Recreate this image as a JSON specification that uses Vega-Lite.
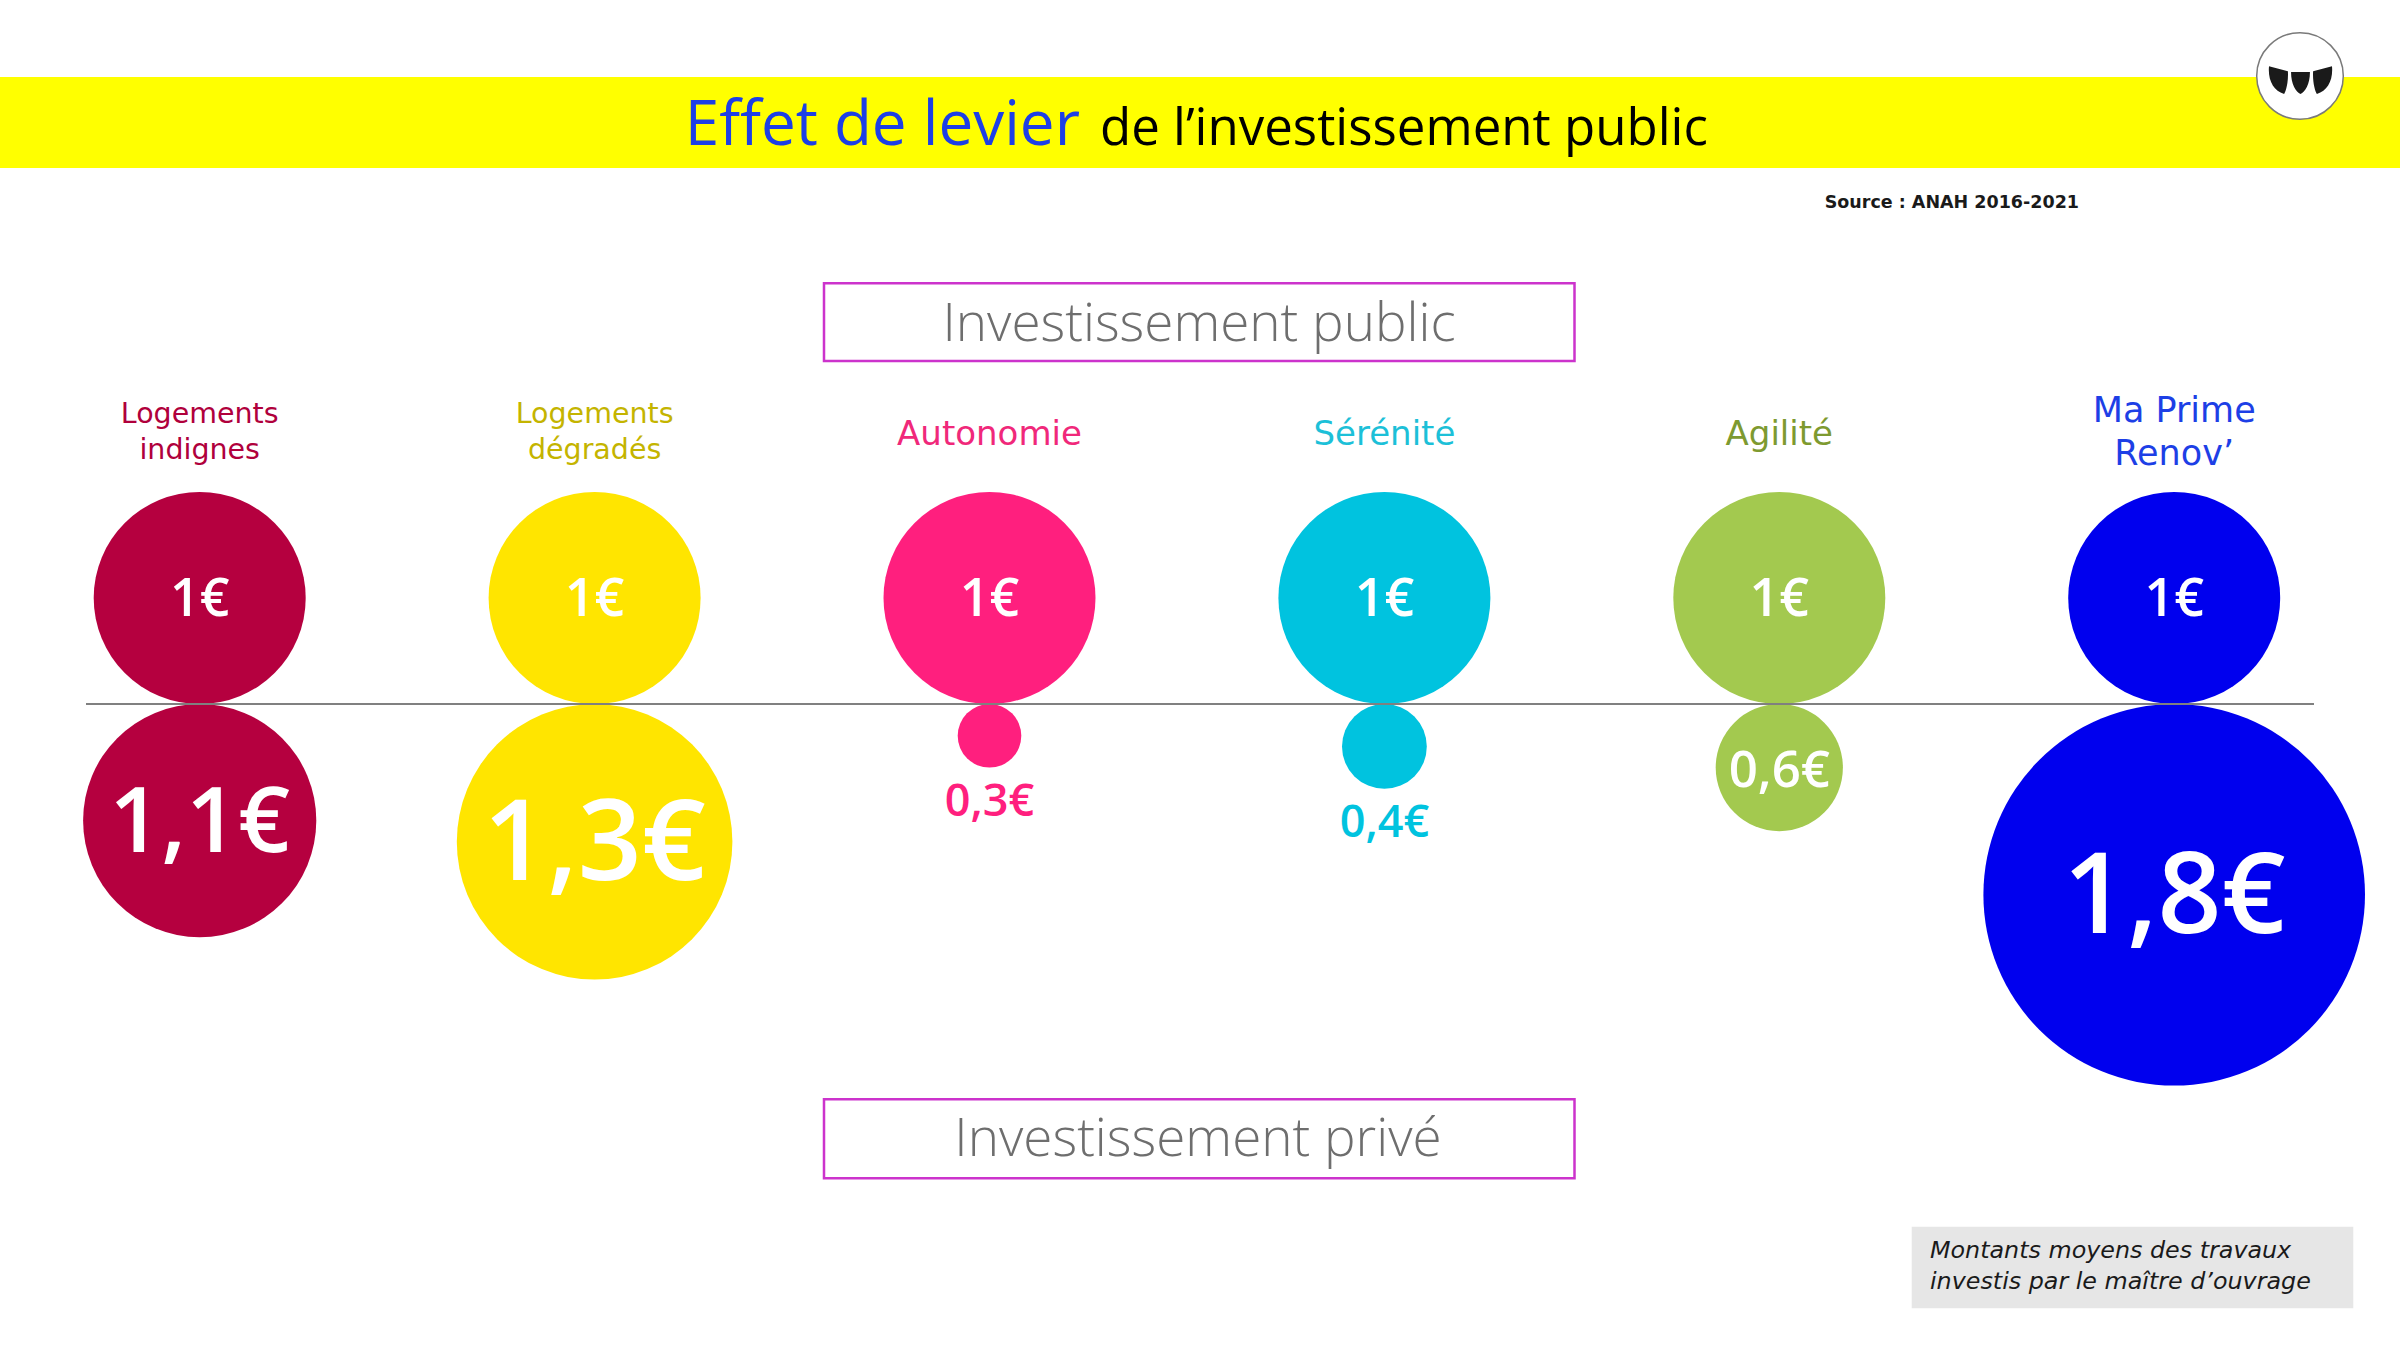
{
  "$schema": "https://vega.github.io/schema/vega-lite/v6.json",
  "width": 2400,
  "height": 1350,
  "padding": 0,
  "autosize": {"type": "none"},
  "background": "white",
  "config": {
    "view": {"stroke": null},
    "axis": {"disable": true},
    "legend": {"disable": true},
    "locale": {"number": {"decimal": ",", "thousands": " ", "grouping": [3], "currency": ["", "€"]}}
  },
  "datasets": {
    "effet": [
      {"categorie": "Logements indignes", "libelle": "Logements\nindignes", "public": 1, "prive": 1.1},
      {"categorie": "Logements dégradés", "libelle": "Logements\ndégradés", "public": 1, "prive": 1.3},
      {"categorie": "Autonomie", "libelle": "Autonomie", "public": 1, "prive": 0.3},
      {"categorie": "Sérénité", "libelle": "Sérénité", "public": 1, "prive": 0.4},
      {"categorie": "Agilité", "libelle": "Agilité", "public": 1, "prive": 0.6},
      {"categorie": "Ma Prime Renov’", "libelle": "Ma Prime\nRenov’", "public": 1, "prive": 1.8}
    ]
  },
  "data": {"name": "effet"},
  "resolve": {"scale": {"x": "independent", "y": "independent", "size": "independent", "color": "independent"}},
  "layer": [
    {
      "data": {"values": [{}]},
      "mark": {"type": "rect", "fill": "#FFFF00", "stroke": null},
      "encoding": {
        "x": {"datum": 0, "type": "quantitative", "scale": {"type": "linear", "domain": [0, 2400], "range": [0, 2400], "nice": false, "zero": false}},
        "x2": {"datum": 2400},
        "y": {"datum": 5.9151, "type": "quantitative", "scale": {"type": "linear", "domain": [-6.0943, 6.6415], "nice": false, "zero": false}},
        "y2": {"datum": 5.0566}
      }
    },
    {
      "data": {"values": [{}]},
      "mark": {"type": "text", "text": "Effet de levier", "align": "right", "baseline": "alphabetic", "font": "Open Sans", "fontSize": 62, "color": "#1D3FE6"},
      "encoding": {
        "x": {"datum": 1080, "type": "quantitative", "scale": {"type": "linear", "domain": [0, 2400], "range": [0, 2400], "nice": false, "zero": false}},
        "y": {"datum": 5.2708, "type": "quantitative", "scale": {"type": "linear", "domain": [-6.0943, 6.6415], "nice": false, "zero": false}}
      }
    },
    {
      "data": {"values": [{}]},
      "mark": {"type": "text", "text": "de l’investissement public", "align": "left", "baseline": "alphabetic", "font": "Open Sans", "fontSize": 51, "color": "#000000"},
      "encoding": {
        "x": {"datum": 1100, "type": "quantitative", "scale": {"type": "linear", "domain": [0, 2400], "range": [0, 2400], "nice": false, "zero": false}},
        "y": {"datum": 5.2708, "type": "quantitative", "scale": {"type": "linear", "domain": [-6.0943, 6.6415], "nice": false, "zero": false}}
      }
    },
    {
      "data": {"values": [{}]},
      "mark": {"type": "point", "shape": "circle", "filled": true, "fill": "#FFFFFF", "stroke": "#7A7A7A", "strokeWidth": 1.5, "opacity": 1, "size": 7500},
      "encoding": {
        "x": {"datum": 2300, "type": "quantitative", "scale": {"type": "linear", "domain": [0, 2400], "range": [0, 2400], "nice": false, "zero": false}},
        "y": {"datum": 5.9245, "type": "quantitative", "scale": {"type": "linear", "domain": [-6.0943, 6.6415], "nice": false, "zero": false}}
      }
    },
    {
      "data": {"values": [{}]},
      "mark": {"type": "point", "shape": "M-1,-0.42 L-0.4,-0.26 C-0.38,0.08 -0.46,0.36 -0.52,0.46 C-0.86,0.36 -1.04,0.02 -1,-0.42 Z M-0.3,-0.24 L0.3,-0.24 C0.3,0.16 0.14,0.4 0,0.46 C-0.14,0.4 -0.3,0.16 -0.3,-0.24 Z M1,-0.42 L0.4,-0.26 C0.38,0.08 0.46,0.36 0.52,0.46 C0.86,0.36 1.04,0.02 1,-0.42 Z", "filled": true, "fill": "#1A1A1A", "strokeWidth": 0, "opacity": 1, "size": 3969},
      "encoding": {
        "x": {"datum": 2300.5, "type": "quantitative", "scale": {"type": "linear", "domain": [0, 2400], "range": [0, 2400], "nice": false, "zero": false}},
        "y": {"datum": 5.8915, "type": "quantitative", "scale": {"type": "linear", "domain": [-6.0943, 6.6415], "nice": false, "zero": false}}
      }
    },
    {
      "data": {"values": [{}]},
      "mark": {"type": "text", "text": "Source : ANAH 2016-2021", "align": "right", "baseline": "alphabetic", "font": "DejaVu Sans", "fontWeight": "bold", "fontSize": 17.5, "color": "#1A1A1A"},
      "encoding": {
        "x": {"datum": 2079, "type": "quantitative", "scale": {"type": "linear", "domain": [0, 2400], "range": [0, 2400], "nice": false, "zero": false}},
        "y": {"datum": 4.6792, "type": "quantitative", "scale": {"type": "linear", "domain": [-6.0943, 6.6415], "nice": false, "zero": false}}
      }
    },
    {
      "data": {"values": [{}]},
      "mark": {"type": "rect", "fill": "#FFFFFF", "stroke": "#CC33CC", "strokeWidth": 2.5},
      "encoding": {
        "x": {"datum": 824, "type": "quantitative", "scale": {"type": "linear", "domain": [0, 2400], "range": [0, 2400], "nice": false, "zero": false}},
        "x2": {"datum": 1574.5},
        "y": {"datum": 3.9689, "type": "quantitative", "scale": {"type": "linear", "domain": [-6.0943, 6.6415], "nice": false, "zero": false}},
        "y2": {"datum": 3.2358}
      }
    },
    {
      "data": {"values": [{}]},
      "mark": {"type": "text", "text": "Investissement public", "align": "center", "baseline": "alphabetic", "font": "Open Sans", "fontWeight": 300, "fontSize": 53, "color": "#6E6E6E"},
      "encoding": {
        "x": {"datum": 1199, "type": "quantitative", "scale": {"type": "linear", "domain": [0, 2400], "range": [0, 2400], "nice": false, "zero": false}},
        "y": {"datum": 3.425, "type": "quantitative", "scale": {"type": "linear", "domain": [-6.0943, 6.6415], "nice": false, "zero": false}}
      }
    },
    {
      "data": {"values": [{}]},
      "mark": {"type": "rect", "fill": "#FFFFFF", "stroke": "#CC33CC", "strokeWidth": 2.5},
      "encoding": {
        "x": {"datum": 824, "type": "quantitative", "scale": {"type": "linear", "domain": [0, 2400], "range": [0, 2400], "nice": false, "zero": false}},
        "x2": {"datum": 1574.5},
        "y": {"datum": -3.7292, "type": "quantitative", "scale": {"type": "linear", "domain": [-6.0943, 6.6415], "nice": false, "zero": false}},
        "y2": {"datum": -4.4745}
      }
    },
    {
      "data": {"values": [{}]},
      "mark": {"type": "text", "text": "Investissement privé", "align": "center", "baseline": "alphabetic", "font": "Open Sans", "fontWeight": 300, "fontSize": 53, "color": "#6E6E6E"},
      "encoding": {
        "x": {"datum": 1198, "type": "quantitative", "scale": {"type": "linear", "domain": [0, 2400], "range": [0, 2400], "nice": false, "zero": false}},
        "y": {"datum": -4.2642, "type": "quantitative", "scale": {"type": "linear", "domain": [-6.0943, 6.6415], "nice": false, "zero": false}}
      }
    },
    {
      "data": {"values": [{}]},
      "mark": {"type": "rect", "fill": "#E6E6E6", "stroke": null},
      "encoding": {
        "x": {"datum": 1911.7, "type": "quantitative", "scale": {"type": "linear", "domain": [0, 2400], "range": [0, 2400], "nice": false, "zero": false}},
        "x2": {"datum": 2353.3},
        "y": {"datum": -4.9311, "type": "quantitative", "scale": {"type": "linear", "domain": [-6.0943, 6.6415], "nice": false, "zero": false}},
        "y2": {"datum": -5.7009}
      }
    },
    {
      "data": {"values": [{}]},
      "mark": {"type": "text", "text": ["Montants moyens des travaux", "investis par le maître d’ouvrage"], "align": "left", "baseline": "alphabetic", "lineHeight": 31, "font": "DejaVu Sans", "fontStyle": "italic", "fontSize": 23.8, "color": "#1A1A1A"},
      "encoding": {
        "x": {"datum": 1930, "type": "quantitative", "scale": {"type": "linear", "domain": [0, 2400], "range": [0, 2400], "nice": false, "zero": false}},
        "y": {"datum": -5.2264, "type": "quantitative", "scale": {"type": "linear", "domain": [-6.0943, 6.6415], "nice": false, "zero": false}}
      }
    },
    {
      "transform": [{"filter": {"field": "categorie", "oneOf": ["Logements indignes", "Logements dégradés"]}}],
      "mark": {"type": "text", "align": "center", "baseline": "middle", "dy": -18, "lineBreak": "\n", "lineHeight": 36, "font": "DejaVu Sans", "fontSize": 28.5},
      "encoding": {
        "x": {"field": "categorie", "type": "nominal", "scale": {"type": "point", "domain": ["Logements indignes", "Logements dégradés", "Autonomie", "Sérénité", "Agilité", "Ma Prime Renov’"], "range": [199.7, 2174.2], "padding": 0}},
        "y": {"datum": 2.566, "type": "quantitative", "scale": {"type": "linear", "domain": [-6.0943, 6.6415], "nice": false, "zero": false}},
        "text": {"field": "libelle", "type": "nominal"},
        "color": {"field": "categorie", "type": "nominal", "scale": {"domain": ["Logements indignes", "Logements dégradés", "Autonomie", "Sérénité", "Agilité", "Ma Prime Renov’"], "range": ["#B0003C", "#C4B400", "#F0287A", "#1CC0D8", "#7E9A30", "#1D3FE6"]}}
      }
    },
    {
      "transform": [{"filter": {"field": "categorie", "oneOf": ["Autonomie", "Sérénité", "Agilité"]}}],
      "mark": {"type": "text", "align": "center", "baseline": "middle", "dy": 3, "font": "DejaVu Sans", "fontSize": 34},
      "encoding": {
        "x": {"field": "categorie", "type": "nominal", "scale": {"type": "point", "domain": ["Logements indignes", "Logements dégradés", "Autonomie", "Sérénité", "Agilité", "Ma Prime Renov’"], "range": [199.7, 2174.2], "padding": 0}},
        "y": {"datum": 2.566, "type": "quantitative", "scale": {"type": "linear", "domain": [-6.0943, 6.6415], "nice": false, "zero": false}},
        "text": {"field": "libelle", "type": "nominal"},
        "color": {"field": "categorie", "type": "nominal", "scale": {"domain": ["Logements indignes", "Logements dégradés", "Autonomie", "Sérénité", "Agilité", "Ma Prime Renov’"], "range": ["#B0003C", "#C4B400", "#F0287A", "#1CC0D8", "#7E9A30", "#1D3FE6"]}}
      }
    },
    {
      "transform": [{"filter": {"field": "categorie", "oneOf": ["Ma Prime Renov’"]}}],
      "mark": {"type": "text", "align": "center", "baseline": "middle", "dy": -21, "lineBreak": "\n", "lineHeight": 43, "font": "DejaVu Sans", "fontSize": 35},
      "encoding": {
        "x": {"field": "categorie", "type": "nominal", "scale": {"type": "point", "domain": ["Logements indignes", "Logements dégradés", "Autonomie", "Sérénité", "Agilité", "Ma Prime Renov’"], "range": [199.7, 2174.2], "padding": 0}},
        "y": {"datum": 2.566, "type": "quantitative", "scale": {"type": "linear", "domain": [-6.0943, 6.6415], "nice": false, "zero": false}},
        "text": {"field": "libelle", "type": "nominal"},
        "color": {"field": "categorie", "type": "nominal", "scale": {"domain": ["Logements indignes", "Logements dégradés", "Autonomie", "Sérénité", "Agilité", "Ma Prime Renov’"], "range": ["#B0003C", "#C4B400", "#F0287A", "#1CC0D8", "#7E9A30", "#1D3FE6"]}}
      }
    },
    {
      "mark": {"type": "circle", "opacity": 1, "strokeWidth": 0},
      "encoding": {
        "x": {"field": "categorie", "type": "nominal", "scale": {"type": "point", "domain": ["Logements indignes", "Logements dégradés", "Autonomie", "Sérénité", "Agilité", "Ma Prime Renov’"], "range": [199.7, 2174.2], "padding": 0}},
        "y": {"field": "public", "type": "quantitative", "scale": {"type": "linear", "domain": [-6.0943, 6.6415], "nice": false, "zero": false}},
        "size": {"field": "public", "type": "quantitative", "scale": {"type": "pow", "exponent": 2, "domain": [0, 2], "range": [0, 179776]}},
        "color": {"field": "categorie", "type": "nominal", "scale": {"domain": ["Logements indignes", "Logements dégradés", "Autonomie", "Sérénité", "Agilité", "Ma Prime Renov’"], "range": ["#B5003F", "#FFE500", "#FF1F7E", "#00C3DF", "#A3C94F", "#0000EE"]}}
      }
    },
    {
      "mark": {"type": "circle", "opacity": 1, "strokeWidth": 0},
      "encoding": {
        "x": {"field": "categorie", "type": "nominal", "scale": {"type": "point", "domain": ["Logements indignes", "Logements dégradés", "Autonomie", "Sérénité", "Agilité", "Ma Prime Renov’"], "range": [199.7, 2174.2], "padding": 0}},
        "y": {"field": "prive", "type": "quantitative", "scale": {"type": "linear", "domain": [-6.6415, 6.0943], "reverse": true, "nice": false, "zero": false}},
        "size": {"field": "prive", "type": "quantitative", "scale": {"type": "pow", "exponent": 2, "domain": [0, 2], "range": [0, 179776]}},
        "color": {"field": "categorie", "type": "nominal", "scale": {"domain": ["Logements indignes", "Logements dégradés", "Autonomie", "Sérénité", "Agilité", "Ma Prime Renov’"], "range": ["#B5003F", "#FFE500", "#FF1F7E", "#00C3DF", "#A3C94F", "#0000EE"]}}
      }
    },
    {
      "data": {"values": [{}]},
      "mark": {"type": "rule", "color": "#808080", "strokeWidth": 2},
      "encoding": {
        "x": {"datum": 86, "type": "quantitative", "scale": {"type": "linear", "domain": [0, 2400], "range": [0, 2400], "nice": false, "zero": false}},
        "x2": {"datum": 2314},
        "y": {"datum": 0, "type": "quantitative", "scale": {"type": "linear", "domain": [-6.0943, 6.6415], "nice": false, "zero": false}}
      }
    },
    {
      "mark": {"type": "text", "align": "center", "baseline": "middle", "dy": 2, "font": "Open Sans", "fontWeight": 600, "fontSize": 52, "color": "#FFFFFF"},
      "encoding": {
        "x": {"field": "categorie", "type": "nominal", "scale": {"type": "point", "domain": ["Logements indignes", "Logements dégradés", "Autonomie", "Sérénité", "Agilité", "Ma Prime Renov’"], "range": [199.7, 2174.2], "padding": 0}},
        "y": {"field": "public", "type": "quantitative", "scale": {"type": "linear", "domain": [-6.0943, 6.6415], "nice": false, "zero": false}},
        "text": {"field": "public", "type": "quantitative", "format": "$.0f"}
      }
    },
    {
      "transform": [{"filter": {"field": "prive", "gte": 0.5}}],
      "mark": {"type": "text", "align": "center", "baseline": "middle", "dy": 4, "font": "Open Sans", "fontWeight": 600, "color": "#FFFFFF"},
      "encoding": {
        "x": {"field": "categorie", "type": "nominal", "scale": {"type": "point", "domain": ["Logements indignes", "Logements dégradés", "Autonomie", "Sérénité", "Agilité", "Ma Prime Renov’"], "range": [199.7, 2174.2], "padding": 0}},
        "y": {"field": "prive", "type": "quantitative", "scale": {"type": "linear", "domain": [-6.6415, 6.0943], "reverse": true, "nice": false, "zero": false}},
        "size": {"field": "prive", "type": "quantitative", "scale": {"type": "threshold", "domain": [1, 1.2], "range": [51, 91, 112]}},
        "text": {"field": "prive", "type": "quantitative", "format": "$.1f"}
      }
    },
    {
      "transform": [{"filter": {"field": "prive", "lt": 0.5}}],
      "mark": {"type": "text", "align": "center", "baseline": "middle", "dy": 34, "font": "Open Sans", "fontWeight": 600, "fontSize": 45},
      "encoding": {
        "x": {"field": "categorie", "type": "nominal", "scale": {"type": "point", "domain": ["Logements indignes", "Logements dégradés", "Autonomie", "Sérénité", "Agilité", "Ma Prime Renov’"], "range": [199.7, 2174.2], "padding": 0}},
        "y": {"field": "prive", "type": "quantitative", "scale": {"type": "linear", "domain": [-3.3208, 3.0472], "reverse": true, "nice": false, "zero": false}},
        "text": {"field": "prive", "type": "quantitative", "format": "$.1f"},
        "color": {"field": "categorie", "type": "nominal", "scale": {"domain": ["Logements indignes", "Logements dégradés", "Autonomie", "Sérénité", "Agilité", "Ma Prime Renov’"], "range": ["#B5003F", "#FFE500", "#FF1F7E", "#00C3DF", "#A3C94F", "#0000EE"]}}
      }
    }
  ]
}
